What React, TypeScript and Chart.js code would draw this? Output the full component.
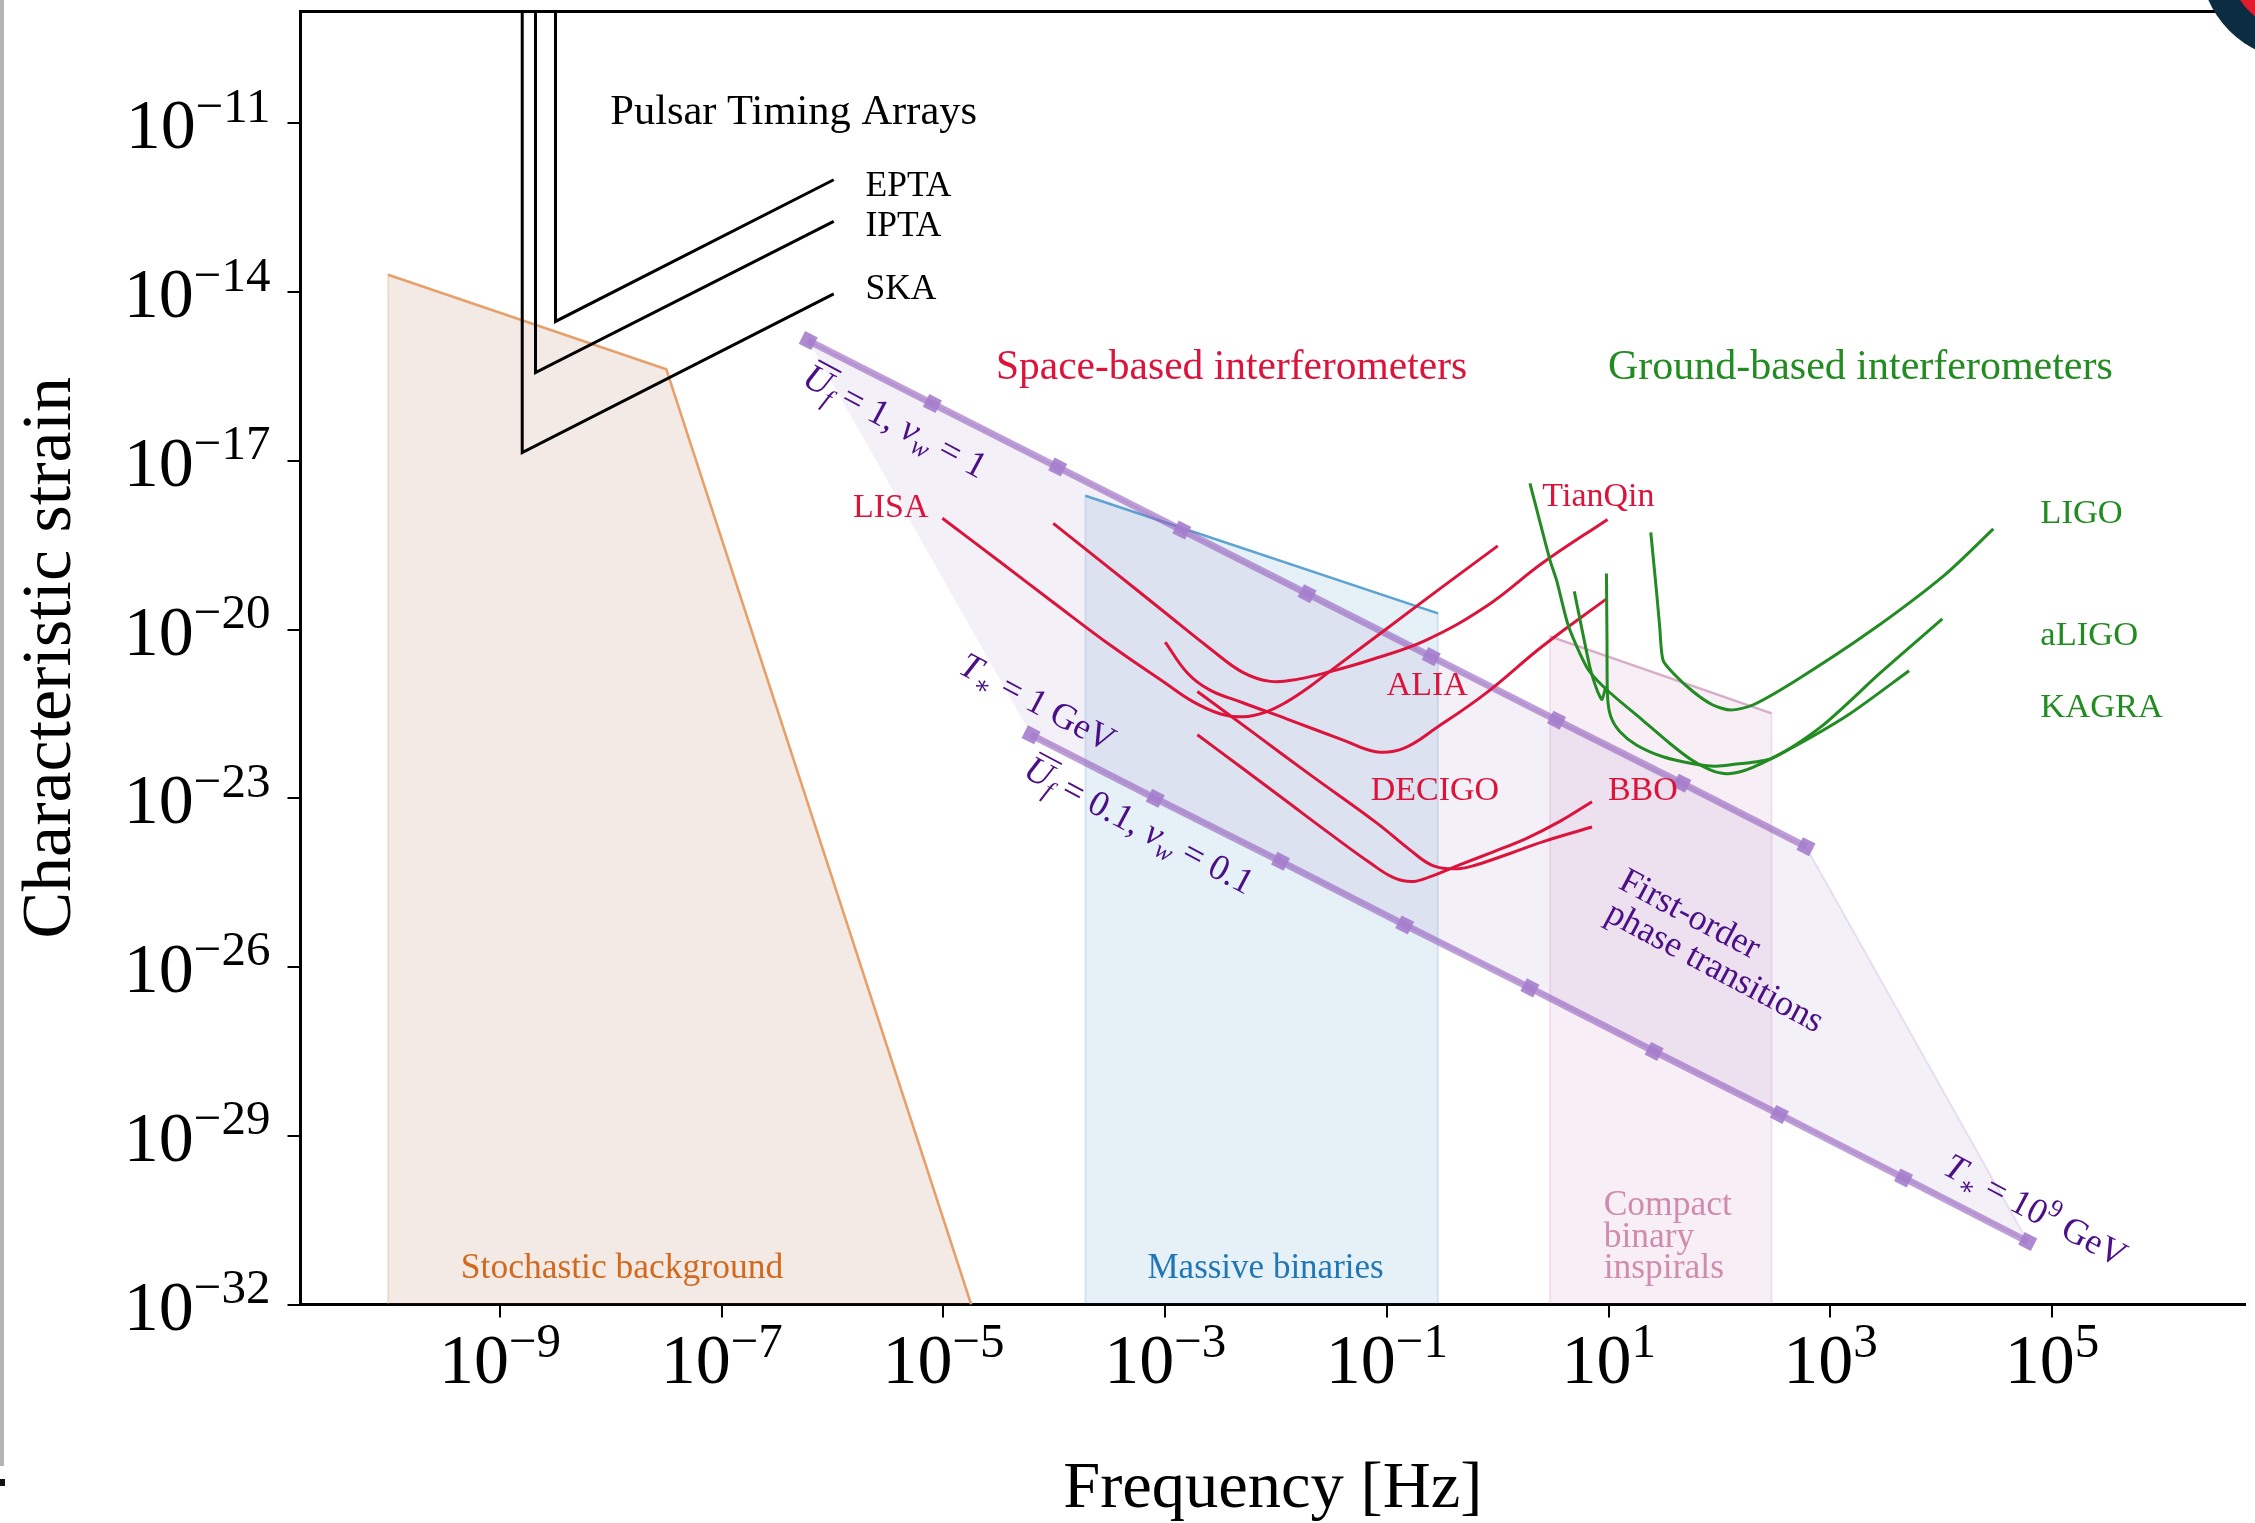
import { useEffect, useRef } from 'react';
import { Chart, registerables } from 'chart.js';

Chart.register(...registerables);

const SERIF = '"Liberation Serif", "DejaVu Serif", serif';

// ---- axis extent (log10 units) ----
const LOG_F_MIN = -10.8;
const LOG_F_MAX = 6.74;
const LOG_H_MIN = -32;
const LOG_H_MAX = -9;

// ---- tick positions (log10 values) ----
const FREQ_TICKS = [-9, -7, -5, -3, -1, 1, 3, 5];
const STRAIN_TICKS = [-32, -29, -26, -23, -20, -17, -14, -11];

// ---- Pulsar timing arrays (log10 f, log10 h) ----
const eptaLogF = [-8.5, -8.5, -5.99];
const eptaLogH = [-8.5, -14.52, -12.0];
const iptaLogF = [-8.68, -8.68, -5.99];
const iptaLogH = [-8.5, -15.43, -12.74];
const skaLogF = [-8.8, -8.8, -5.99];
const skaLogH = [-8.5, -16.85, -14.03];

// ---- source regions ----
const stochLogF = [-10.01, -7.5, -4.75];
const stochLogH = [-13.69, -15.37, -32.0];
const massiveLogF = [-3.72, -0.54];
const massiveLogH = [-17.62, -19.71];
const compactLogF = [0.47, 2.47];
const compactLogH = [-20.12, -21.49];

// ---- first-order phase transitions ----
const ptUpperLogF = [-6.22, -5.1, -3.97, -2.85, -1.72, -0.6, 0.53, 1.66, 2.78];
const ptUpperLogH = [-14.86, -15.98, -17.11, -18.23, -19.36, -20.48, -21.61, -22.73, -23.86];
const ptLowerLogF = [-4.21, -3.09, -1.96, -0.84, 0.29, 1.41, 2.54, 3.66, 4.78];
const ptLowerLogH = [-21.87, -23.0, -24.12, -25.25, -26.37, -27.5, -28.62, -29.75, -30.88];

// ---- space-based interferometers ----
const lisaLogF = [-5.01, -4.5, -4.0, -3.5, -3.0, -2.75, -2.5, -2.3, -2.1, -1.9, -1.7, -1.5, -1.0, -0.5, 0.0];
const lisaLogH = [-18.02, -18.78, -19.53, -20.27, -20.95, -21.28, -21.5, -21.55, -21.47, -21.28, -21.02, -20.72, -19.98, -19.24, -18.51];
const tianqinLogF = [-4.01, -3.5, -3.0, -2.6, -2.3, -2.05, -1.8, -1.5, -1.15, -0.65, -0.1, 0.4, 0.99];
const tianqinLogH = [-18.11, -18.91, -19.7, -20.33, -20.76, -20.92, -20.88, -20.74, -20.54, -20.19, -19.58, -18.82, -18.04];
const aliaLogF = [-3.0, -2.8, -2.6, -2.3, -1.9, -1.4, -1.1, -0.85, -0.55, -0.1, 0.4, 0.99];
const aliaLogH = [-20.22, -20.77, -21.07, -21.3, -21.59, -21.96, -22.17, -22.11, -21.74, -21.12, -20.3, -19.44];
const decigoLogF = [-2.71, -2.2, -1.7, -1.09, -0.79, -0.58, -0.35, -0.19, 0.11, 0.41, 0.85];
const decigoLogH = [-21.1, -21.84, -22.57, -23.44, -23.92, -24.2, -24.25, -24.18, -23.98, -23.77, -23.51];
const bboLogF = [-2.71, -2.3, -1.92, -1.5, -1.15, -0.95, -0.78, -0.62, -0.34, -0.04, 0.26, 0.56, 0.85];
const bboLogH = [-21.87, -22.47, -23.03, -23.65, -24.15, -24.4, -24.48, -24.4, -24.18, -23.95, -23.71, -23.41, -23.06];

// ---- ground-based interferometers ----
const ligoLogF = [1.38, 1.43, 1.46, 1.49, 1.58, 1.76, 1.94, 2.1, 2.3, 2.7, 3.36, 4.03, 4.47];
const ligoLogH = [-18.27, -19.29, -19.94, -20.54, -20.77, -21.1, -21.34, -21.43, -21.34, -20.89, -20.03, -19.03, -18.21];
const aligoLogF = [0.98, 0.985, 0.99, 1.02, 1.1, 1.25, 1.49, 1.75, 1.96, 2.12, 2.47, 2.92, 3.45, 4.01];
const aligoLogH = [-19.0, -20.18, -21.19, -21.55, -21.81, -22.05, -22.26, -22.38, -22.43, -22.4, -22.29, -21.72, -20.77, -19.81];
const kagraLogF = [0.29, 0.47, 0.53, 0.63, 0.74, 0.83, 1.0, 1.3, 1.55, 1.75, 1.95, 2.1, 2.3, 2.7, 3.18, 3.71];
const kagraLogH = [-17.4, -18.76, -19.12, -19.89, -20.42, -20.75, -21.1, -21.6, -22.02, -22.32, -22.52, -22.56, -22.45, -22.05, -21.49, -20.73];
const kagraNotchLogF = [0.69, 0.83, 0.9, 0.94, 0.975];
const kagraNotchLogH = [-19.32, -20.66, -21.1, -21.24, -21.01];

// ---- colours ----
const RED = '#DC143C';
const GREEN = '#228B22';
const PURPLE_TEXT = '#4B0F86';
const ORANGE_TEXT = '#D2691E';
const BLUE_TEXT = '#1F77B4';
const PINK_TEXT = '#D08CAE';

type Seg = { t: string; it?: boolean; sub?: boolean; sup?: boolean; bar?: boolean };
type Note = {
  segs: Seg[];
  x: number;
  y: number;
  size: number;
  color: string;
  align?: 'left' | 'center' | 'right';
  angle?: number;
  middle?: boolean;
};

const ANG = 28;
const NOTES: Note[] = [
  { segs: [{ t: 'Pulsar Timing Arrays' }], x: -8.006, y: -11.005, size: 42.5, color: '#000' },
  { segs: [{ t: 'EPTA' }], x: -5.704, y: -12.298, size: 35.5, color: '#000' },
  { segs: [{ t: 'IPTA' }], x: -5.704, y: -12.997, size: 35.5, color: '#000' },
  { segs: [{ t: 'SKA' }], x: -5.704, y: -14.118, size: 35.5, color: '#000' },
  { segs: [{ t: 'Space-based interferometers' }], x: -4.527, y: -15.54, size: 41.5, color: RED },
  { segs: [{ t: 'Ground-based interferometers' }], x: 0.993, y: -15.54, size: 42, color: GREEN },
  { segs: [{ t: 'LISA' }], x: -5.817, y: -18.0, size: 34, color: RED },
  { segs: [{ t: 'TianQin' }], x: 0.402, y: -17.81, size: 34, color: RED },
  { segs: [{ t: 'ALIA' }], x: -1.003, y: -21.16, size: 34, color: RED },
  { segs: [{ t: 'DECIGO' }], x: -1.147, y: -23.03, size: 34, color: RED },
  { segs: [{ t: 'BBO' }], x: 0.993, y: -23.03, size: 34, color: RED },
  { segs: [{ t: 'LIGO' }], x: 4.894, y: -18.1, size: 34.5, color: GREEN },
  { segs: [{ t: 'aLIGO' }], x: 4.894, y: -20.27, size: 34.5, color: GREEN },
  { segs: [{ t: 'KAGRA' }], x: 4.894, y: -21.55, size: 34.5, color: GREEN },
  { segs: [{ t: 'Stochastic background' }], x: -9.354, y: -31.53, size: 35.5, color: ORANGE_TEXT },
  { segs: [{ t: 'Massive binaries' }], x: -3.16, y: -31.53, size: 35, color: BLUE_TEXT },
  { segs: [{ t: 'Compact' }], x: 0.955, y: -30.41, size: 35.5, color: PINK_TEXT },
  { segs: [{ t: 'binary' }], x: 0.955, y: -30.98, size: 35.5, color: PINK_TEXT },
  { segs: [{ t: 'inspirals' }], x: 0.955, y: -31.53, size: 35.5, color: PINK_TEXT },
  {
    segs: [{ t: 'U', it: true, bar: true }, { t: 'f', it: true, sub: true }, { t: ' = 1, ' }, { t: 'v', it: true }, { t: 'w', it: true, sub: true }, { t: ' = 1' }],
    x: -5.434, y: -16.287, size: 37, color: PURPLE_TEXT, align: 'center', angle: ANG, middle: true,
  },
  {
    segs: [{ t: 'T', it: true }, { t: '\u2217', sub: true }, { t: ' = 1 GeV' }],
    x: -4.149, y: -21.284, size: 36, color: PURPLE_TEXT, align: 'center', angle: ANG, middle: true,
  },
  {
    segs: [{ t: 'U', it: true, bar: true }, { t: 'f', it: true, sub: true }, { t: ' = 0.1, ' }, { t: 'v', it: true }, { t: 'w', it: true, sub: true }, { t: ' = 0.1' }],
    x: -3.232, y: -23.472, size: 36.5, color: PURPLE_TEXT, align: 'center', angle: ANG, middle: true,
  },
  {
    segs: [{ t: 'T', it: true }, { t: '\u2217', sub: true }, { t: ' = 10' }, { t: '9', sup: true }, { t: ' GeV' }],
    x: 4.853, y: -30.32, size: 36, color: PURPLE_TEXT, align: 'center', angle: ANG, middle: true,
  },
  { segs: [{ t: 'First-order' }], x: 1.738, y: -25.04, size: 36, color: PURPLE_TEXT, align: 'center', angle: ANG, middle: true },
  { segs: [{ t: 'phase transitions' }], x: 1.963, y: -25.98, size: 36, color: PURPLE_TEXT, align: 'center', angle: ANG, middle: true },
];

function drawRich(
  ctx: CanvasRenderingContext2D,
  segs: Seg[],
  x: number,
  y: number,
  size: number,
  color: string,
  angleDeg: number,
  align: 'left' | 'center' | 'right',
  middle: boolean,
  supRaise = 0.4,
) {
  ctx.save();
  ctx.translate(x, y);
  ctx.rotate((angleDeg * Math.PI) / 180);
  ctx.fillStyle = color;
  ctx.strokeStyle = color;
  ctx.textBaseline = 'alphabetic';
  ctx.textAlign = 'left';
  const parts = segs.map((s) => {
    const fs = s.sub || s.sup ? size * 0.7 : size;
    const font = `${s.it ? 'italic ' : ''}${fs}px ${SERIF}`;
    ctx.font = font;
    return { ...s, font, w: ctx.measureText(s.t).width };
  });
  const total = parts.reduce((a, p) => a + p.w, 0);
  let cx = align === 'center' ? -total / 2 : align === 'right' ? -total : 0;
  const dy = middle ? size * 0.33 : 0;
  for (const p of parts) {
    ctx.font = p.font;
    const oy = p.sub ? size * 0.22 : p.sup ? -size * supRaise : 0;
    ctx.fillText(p.t, cx, dy + oy);
    if (p.bar) {
      ctx.lineWidth = Math.max(1.5, size * 0.05);
      ctx.beginPath();
      ctx.moveTo(cx + size * 0.12, dy - size * 0.8);
      ctx.lineTo(cx + p.w + size * 0.1, dy - size * 0.8);
      ctx.stroke();
    }
    cx += p.w;
  }
  ctx.restore();
}

const expText = (v: number) => (v < 0 ? '\u2212' + Math.abs(v) : String(v));

const decorPlugin = {
  id: 'decor',
  afterDraw(chart: any) {
    const { ctx, chartArea: a, scales } = chart;
    const xs = scales.x;
    const ys = scales.y;
    for (const v of FREQ_TICKS) {
      drawRich(ctx, [{ t: '10' }, { t: expText(v), sup: true }], xs.getPixelForValue(v), a.bottom + 78.5, 70, '#000', 0, 'center', false, 0.37);
    }
    for (const v of STRAIN_TICKS) {
      drawRich(ctx, [{ t: '10' }, { t: expText(v), sup: true }], a.left - 30, ys.getPixelForValue(v) + 25, 70, '#000', 0, 'right', false, 0.38);
    }
    drawRich(ctx, [{ t: 'Characteristic strain' }], a.left - 230.5, (a.top + a.bottom) / 2, 70, '#000', -90, 'center', false);
    drawRich(ctx, [{ t: 'Frequency [Hz]' }], (a.left + a.right) / 2, a.bottom + 202.5, 66.5, '#000', 0, 'center', false);
    for (const n of NOTES) {
      drawRich(ctx, n.segs, xs.getPixelForValue(n.x), ys.getPixelForValue(n.y), n.size, n.color, n.angle || 0, n.align || 'left', !!n.middle);
    }
  },
};

const xy = (fx: number[], hy: number[]) => fx.map((x, i) => ({ x, y: hy[i] }));

function curve(label: string, fx: number[], hy: number[], color: string, order: number, extra: any = {}) {
  return {
    label,
    data: xy(fx, hy),
    borderColor: color,
    backgroundColor: color,
    borderWidth: 3,
    pointRadius: 0,
    pointHoverRadius: 0,
    fill: false,
    tension: 0,
    order,
    ...extra,
  };
}

function polygon(label: string, pts: { x: number; y: number }[], fillColor: string, edgeColor: string, order: number) {
  return {
    label,
    data: pts,
    borderColor: edgeColor,
    backgroundColor: fillColor,
    borderWidth: 2,
    pointRadius: 0,
    pointHoverRadius: 0,
    fill: 'shape',
    tension: 0,
    order,
  };
}

export default function App() {
  const ref = useRef<HTMLCanvasElement>(null);

  useEffect(() => {
    if (!ref.current) return;

    const stochPoly = [{ x: stochLogF[0], y: LOG_H_MIN }, ...xy(stochLogF, stochLogH)];
    const massivePoly = [
      { x: massiveLogF[0], y: LOG_H_MIN },
      ...xy(massiveLogF, massiveLogH),
      { x: massiveLogF[massiveLogF.length - 1], y: LOG_H_MIN },
    ];
    const compactPoly = [
      { x: compactLogF[0], y: LOG_H_MIN },
      ...xy(compactLogF, compactLogH),
      { x: compactLogF[compactLogF.length - 1], y: LOG_H_MIN },
    ];
    const ptPoly = [...xy(ptUpperLogF, ptUpperLogH), ...xy(ptLowerLogF, ptLowerLogH).reverse()];

    const markerStyle = {
      borderWidth: 7,
      pointStyle: 'rect',
      pointRadius: 10,
      pointRotation: 27,
      pointBackgroundColor: 'rgba(165,125,205,0.9)',
      pointBorderWidth: 0,
    };

    const datasets: any[] = [
      polygon('Stochastic background', stochPoly, 'rgba(170,105,75,0.14)', 'rgba(220,150,100,0.25)', 100),
      polygon('Massive binaries', massivePoly, 'rgba(31,119,180,0.11)', 'rgba(31,119,180,0.15)', 99),
      polygon('First-order phase transitions', ptPoly, 'rgba(148,103,189,0.1)', 'rgba(148,103,189,0.18)', 98),
      polygon('Compact binary inspirals', compactPoly, 'rgba(180,100,170,0.11)', 'rgba(180,100,170,0.15)', 97),
      curve('Stochastic edge', stochLogF, stochLogH, '#E8A06A', 90, { borderWidth: 2.5 }),
      curve('Massive edge', massiveLogF, massiveLogH, '#5DA3D3', 89, { borderWidth: 2.5 }),
      curve('Compact edge', compactLogF, compactLogH, 'rgba(205,150,185,0.7)', 88, { borderWidth: 2.5 }),
      curve('EPTA', eptaLogF, eptaLogH, '#000', 80),
      curve('IPTA', iptaLogF, iptaLogH, '#000', 80),
      curve('SKA', skaLogF, skaLogH, '#000', 80),
      curve('Uf = 1, vw = 1', ptUpperLogF, ptUpperLogH, 'rgba(150,100,190,0.62)', 70, markerStyle),
      curve('Uf = 0.1, vw = 0.1', ptLowerLogF, ptLowerLogH, 'rgba(150,100,190,0.62)', 70, markerStyle),
      curve('LISA', lisaLogF, lisaLogH, RED, 20, { tension: 0.4 }),
      curve('TianQin', tianqinLogF, tianqinLogH, RED, 20, { tension: 0.4 }),
      curve('ALIA', aliaLogF, aliaLogH, RED, 20, { tension: 0.4 }),
      curve('DECIGO', decigoLogF, decigoLogH, RED, 20, { tension: 0.4 }),
      curve('BBO', bboLogF, bboLogH, RED, 20, { tension: 0.4 }),
      curve('LIGO', ligoLogF, ligoLogH, GREEN, 10, { tension: 0.25 }),
      curve('aLIGO', aligoLogF, aligoLogH, GREEN, 10, { tension: 0.25 }),
      curve('KAGRA', kagraLogF, kagraLogH, GREEN, 10, { tension: 0.25 }),
      curve('KAGRA notch', kagraNotchLogF, kagraNotchLogH, GREEN, 10, { tension: 0.2 }),
    ];

    const chart = new Chart(ref.current, {
      type: 'line',
      data: { datasets },
      options: {
        responsive: false,
        devicePixelRatio: 1,
        animation: false,
        events: [],
        layout: { padding: { left: 0, top: 11, right: 3, bottom: 0 } },
        plugins: { legend: { display: false }, tooltip: { enabled: false } },
        scales: {
          x: {
            type: 'linear',
            position: 'bottom',
            min: LOG_F_MIN,
            max: LOG_F_MAX,
            border: { display: true, color: '#000', width: 3 },
            grid: { display: true, drawOnChartArea: false, drawTicks: true, tickLength: 13, tickWidth: 2, tickColor: '#000', color: '#000', lineWidth: 2 },
            ticks: { display: false },
            afterBuildTicks: (s: any) => {
              s.ticks = FREQ_TICKS.map((v) => ({ value: v }));
            },
            afterFit: (s: any) => {
              s.height = 218.5;
            },
          },
          xTop: {
            type: 'linear',
            position: 'top',
            min: LOG_F_MIN,
            max: LOG_F_MAX,
            border: { display: true, color: '#000', width: 3 },
            grid: { display: false },
            ticks: { display: false },
            afterFit: (s: any) => {
              s.height = 0;
            },
          },
          y: {
            type: 'linear',
            position: 'left',
            min: LOG_H_MIN,
            max: LOG_H_MAX,
            border: { display: true, color: '#000', width: 3 },
            grid: { display: true, drawOnChartArea: false, drawTicks: true, tickLength: 13, tickWidth: 2, tickColor: '#000', color: '#000', lineWidth: 2 },
            ticks: { display: false },
            afterBuildTicks: (s: any) => {
              s.ticks = STRAIN_TICKS.map((v) => ({ value: v }));
            },
            afterFit: (s: any) => {
              s.width = 300.5;
            },
          },
        },
      } as any,
      plugins: [decorPlugin],
    });

    return () => chart.destroy();
  }, []);

  return (
    <div style={{ position: 'fixed', left: 0, top: 0, width: 2255, height: 1523, background: '#fff', overflow: 'hidden' }}>
      <canvas ref={ref} width={2255} height={1523} style={{ display: 'block' }} />
      <div style={{ position: 'absolute', left: 0, top: 0, width: 4, height: 1466, background: '#b4b4b4' }} />
      <div style={{ position: 'absolute', left: 0, top: 1479, width: 5, height: 7, background: '#111' }} />
      <div style={{ position: 'absolute', left: 2200, top: -140, width: 200, height: 200, borderRadius: '50%', background: '#0c2c42' }} />
      <div style={{ position: 'absolute', left: 2228, top: -112, width: 144, height: 144, borderRadius: '50%', background: '#e31b2f' }} />
      <div style={{ position: 'absolute', left: 2246, top: -94, width: 108, height: 108, borderRadius: '50%', background: '#ef6a76' }} />
    </div>
  );
}
